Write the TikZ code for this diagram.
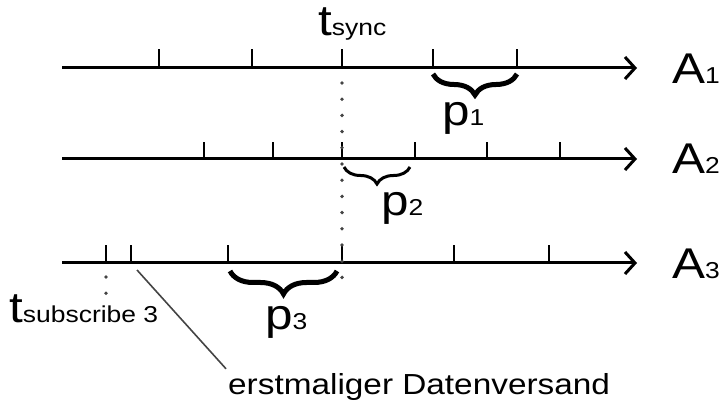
\documentclass[tikz,border=0pt]{standalone}
\usepackage{fontspec}
\setmainfont{Liberation Sans}[FakeStretch=1.15]
\usepackage{tikz}
\definecolor{punktgrau}{HTML}{444444}
\usetikzlibrary{arrows.meta}
\usetikzlibrary{decorations.pathreplacing}

\newcommand{\grosstxt}{\fontsize{43}{43}\selectfont}
\newcommand{\kleintxt}{\fontsize{23}{23}\selectfont}

\begin{document}
\begin{tikzpicture}
    [
    x=1pt, y=-1pt, >={Straight Barb[length=10pt,width=22pt]},
    achse/.style={line width=3pt, ->},
    strich/.style={line width=2.8pt},
    punkte/.style={punktgrau, line width=3.8pt, line cap=round, dash pattern=on 0pt off 16.2pt},
    klammer/.style={decorate, line width=5pt, decoration={brace, amplitude=#1}},
    beschr/.style={anchor=base west, inner sep=0pt}
    %Voreinstellungen
    ]
    
    %Rahmen
    \useasboundingbox (0,0) rectangle (723,403);
    
    %Achsen
    \draw[achse] (62,68) -- (637,68);
    \draw[achse] (62,159) -- (637,159);
    \draw[achse] (62,263) -- (637,263);
    
    %Striche A1
    \foreach \x in {159,252,342,433,517}
    \draw[strich] (\x,68) -- ++(0,-19);
    
    %Striche A2
    \foreach \x in {204,273,342,415,487,560}
    \draw[strich] (\x,159) -- ++(0,-17);
    
    %Striche A3
    \foreach \x in {106,131,228,342,454,549}
    \draw[strich] (\x,263) -- ++(0,-18);
    
    %t sync
    \draw[punkte] (342,83) -- (342,292);
    \node[beschr] (tsync) at (318,36) {\grosstxt t\kleintxt sync};
    
    %t subscribe
    \draw[punkte] (106,277) -- (106,294);
    \node[beschr] (tsub) at (9,323) {\grosstxt t\kleintxt subscribe 3};
    
    %Achsennamen
    \node[beschr] (a1) at (672,84) {\grosstxt A\kleintxt 1};
    \node[beschr] (a2) at (672,174) {\grosstxt A\kleintxt 2};
    \node[beschr] (a3) at (672,279) {\grosstxt A\kleintxt 3};
    
    %Perioden
    \draw[klammer=21pt] (517,74) -- (433,74);
    \node[beschr] (p1) at (442,126) {\grosstxt p\kleintxt 1};
    
    \draw[klammer=17pt, line width=3pt] (410,167) -- (344,167);
    \node[beschr] (p2) at (381,216) {\grosstxt p\kleintxt 2};
    
    \draw[klammer=23pt] (337,271) -- (230,271);
    \node[beschr] (p3) at (265,330) {\grosstxt p\kleintxt 3};
    
    %erstmaliger Datenversand
    \coordinate (erst) at (137,270);
    \node[beschr] (versand) at (228,394) {\fontsize{29}{29}\selectfont erstmaliger Datenversand};
    \draw[punktgrau, line width=1.6pt] (erst) -- ([xshift=-2pt,yshift=4pt]versand.north west);
\end{tikzpicture}
\end{document}
